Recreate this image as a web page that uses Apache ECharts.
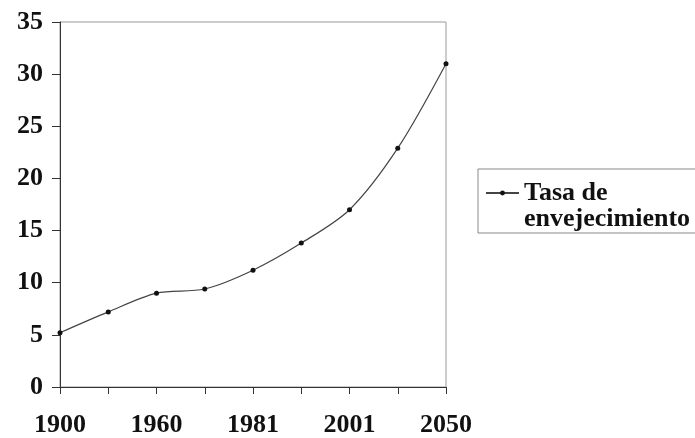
<!DOCTYPE html>
<html lang="es">
<head>
   <meta charset="UTF-8">
   <script src="https://cdn.jsdelivr.net/npm/echarts@6/dist/echarts.min.js"></script>
   <title>Tasa de envejecimiento</title>
   <style>
      html, body { margin: 0; padding: 0; background: #fff; }
   </style>
</head>
<body>
   <div id="container" style="width: 695px; height: 438px"></div>
   <script>
      // datos
      var years = ['1900', '1940', '1960', '1970', '1981', '1991', '2001', '2020', '2050'];
      var tasa = [5.2, 7.2, 9.0, 9.4, 11.2, 13.8, 17.0, 22.9, 31.0];
      var serieNombre = 'Tasa de\nenvejecimiento';

      var fuente = 'Liberation Serif';
      var myChart = echarts.init(document.getElementById('container'));

      var option = {
         animation: false,
         grid: {
            left: 60,
            right: 249,
            top: 22,
            bottom: 51,
            show: true,
            borderColor: '#999',
            borderWidth: 1,
            outerBoundsMode: 'none'
         },
         legend: {
            left: 478,
            top: 169,
            orient: 'vertical',
            padding: [-15, 20, 1, 7],
            borderColor: '#888',
            borderWidth: 1,
            itemWidth: 33,
            itemHeight: 6,
            textStyle: {
               fontFamily: fuente,
               fontWeight: 'bold',
               fontSize: 26,
               color: '#111',
               lineHeight: 26
            },
            // linea vacia arriba para que el icono quede junto a la primera linea
            formatter: function (name) {
               return '\n' + name;
            },
            data: [serieNombre]
         },
         xAxis: {
            type: 'category',
            data: years,
            boundaryGap: false,
            axisLine: { lineStyle: { color: '#333', width: 1 } },
            axisTick: { show: true, inside: false, length: 7, interval: 0, lineStyle: { color: '#333' } },
            axisLabel: {
               interval: 1,
               margin: 25,
               fontFamily: fuente,
               fontWeight: 'bold',
               fontSize: 26,
               color: '#111'
            },
            splitLine: { show: false }
         },
         yAxis: {
            type: 'value',
            min: 0,
            max: 35,
            interval: 5,
            axisLine: { show: true, lineStyle: { color: '#333', width: 1 } },
            axisTick: { show: true, length: 8, lineStyle: { color: '#333' } },
            axisLabel: {
               margin: 17,
               fontFamily: fuente,
               fontWeight: 'bold',
               fontSize: 26,
               color: '#111'
            },
            splitLine: { show: false }
         },
         series: [{
            name: serieNombre,
            type: 'line',
            data: tasa,
            smooth: 0.3,
            symbol: 'circle',
            symbolSize: 5,
            lineStyle: { color: '#444', width: 1.2 },
            itemStyle: { color: '#111' }
         }]
      };

      myChart.setOption(option);
   </script>
</body>
</html>
